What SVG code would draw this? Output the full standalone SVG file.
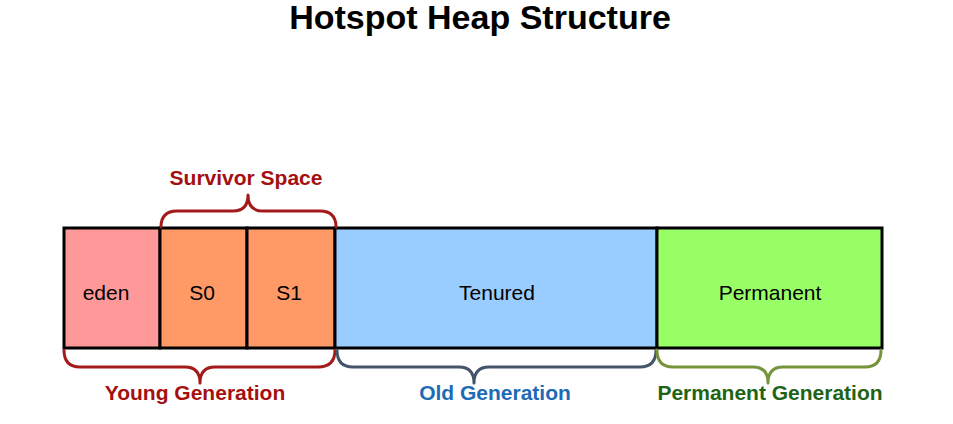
<svg xmlns="http://www.w3.org/2000/svg" width="953" height="424" viewBox="0 0 953 424">
<style>
.box{stroke:#000;stroke-width:3}
.t{font-family:"Liberation Sans",Arial,sans-serif;font-size:21px;text-anchor:middle;fill:#000}
.lbl{font-family:"Liberation Sans",Arial,sans-serif;font-size:21px;font-weight:bold;text-anchor:middle}
.br{fill:none;stroke-width:3;stroke-linejoin:round;stroke-linecap:round}
</style>
<rect width="953" height="424" fill="#fff"/>
<text x="480" y="29" font-family="Liberation Sans,Arial,sans-serif" font-size="34" font-weight="bold" text-anchor="middle">Hotspot Heap Structure</text>
<g id="eden"><rect class="box" x="64" y="228" width="96" height="120" fill="#FF9999"/><text class="t" x="106" y="300">eden</text></g>
<g id="s0"><rect class="box" x="160" y="228" width="87" height="120" fill="#FF9966"/><text class="t" x="202" y="300">S0</text></g>
<g id="s1"><rect class="box" x="247" y="228" width="88" height="120" fill="#FF9966"/><text class="t" x="289" y="300">S1</text></g>
<g id="tenured"><rect class="box" x="335" y="228" width="322" height="120" fill="#99CCFF"/><text class="t" x="497" y="300">Tenured</text></g>
<g id="permanent"><rect class="box" x="657" y="228" width="225" height="120" fill="#99FF66"/><text class="t" x="770" y="300">Permanent</text></g>
<g id="connectors">
<path class="br" stroke="#A31A1A" d="M161,227 Q161,211 177,211 L233,211 Q248,211 248,195 Q248,211 263,211 L320,211 Q336,211 336,227"/>
<path class="br" stroke="#A31A1A" d="M64,350 Q64,367 80,367 L185,367 Q200,367 200,383 Q200,367 215,367 L318,367 Q335,367 335,350"/>
<path class="br" stroke="#44546A" d="M337,350 Q337,367 353,367 L459,367 Q474,367 474,383 Q474,367 489,367 L640,367 Q656,367 656,350"/>
<path class="br" stroke="#77933C" d="M657,350 Q657,367 673,367 L753,367 Q768,367 768,383 Q768,367 783,367 L865,367 Q881,367 881,350"/>
</g>
<g id="labels">
<text class="lbl" x="246" y="185" fill="#A50F0F">Survivor Space</text>
<text class="lbl" x="195" y="400" fill="#A50F0F">Young Generation</text>
<text class="lbl" x="495" y="400" fill="#1F6AB5">Old Generation</text>
<text class="lbl" x="770" y="400" fill="#1E6414">Permanent Generation</text>
</g>
</svg>
